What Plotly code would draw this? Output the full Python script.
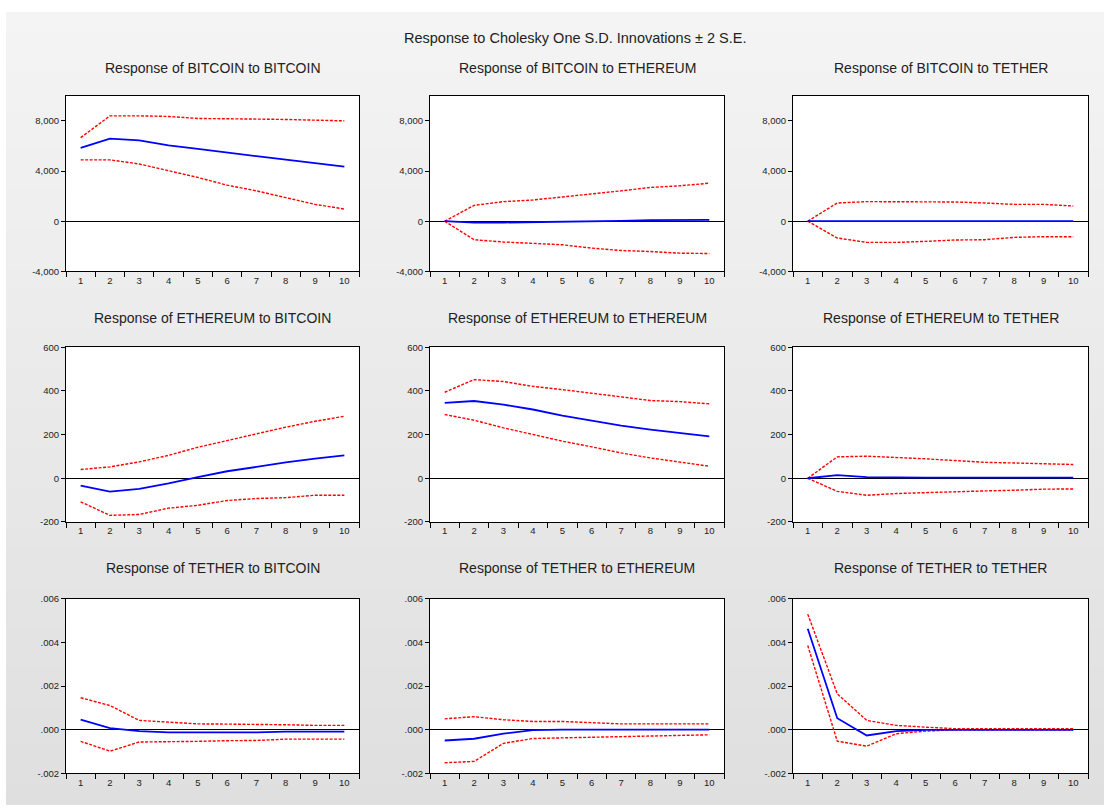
import plotly.graph_objects as go

periods = ["1", "2", "3", "4", "5", "6", "7", "8", "9", "10"]

# Row 1: Response of BITCOIN
btc_btc = [5850, 6580, 6440, 6040, 5770, 5450, 5180, 4910, 4650, 4350]
btc_btc_up = [6660, 8400, 8400, 8350, 8190, 8140, 8140, 8110, 8030, 8000]
btc_btc_lo = [4890, 4890, 4560, 4030, 3490, 2870, 2420, 1880, 1340, 970]

btc_eth = [0, -120, -110, -90, -40, -10, 20, 80, 100, 110]
btc_eth_up = [0, 1260, 1560, 1690, 1930, 2150, 2420, 2690, 2820, 3030]
btc_eth_lo = [0, -1480, -1660, -1800, -1880, -2150, -2340, -2420, -2550, -2580]

btc_usdt = [0, 10, 5, 5, 5, 5, 5, 5, 5, 5]
btc_usdt_up = [0, 1450, 1560, 1560, 1560, 1530, 1450, 1340, 1340, 1210]
btc_usdt_lo = [0, -1340, -1690, -1690, -1610, -1500, -1480, -1290, -1240, -1240]

# Row 2: Response of ETHEREUM
eth_btc = [-34, -61, -49, -24, 5, 32, 52, 73, 90, 105]
eth_btc_up = [40, 52, 75, 105, 142, 173, 205, 234, 261, 284]
eth_btc_lo = [-108, -170, -166, -137, -124, -102, -93, -89, -78, -78]

eth_eth = [345, 354, 337, 315, 287, 264, 241, 223, 208, 192]
eth_eth_up = [394, 452, 443, 421, 406, 388, 373, 356, 351, 341]
eth_eth_lo = [292, 266, 231, 199, 170, 144, 116, 93, 73, 55]

eth_usdt = [0, 14, 5, 3, 3, 3, 3, 3, 3, 3]
eth_usdt_up = [0, 98, 101, 96, 89, 81, 73, 70, 66, 63]
eth_usdt_lo = [0, -60, -78, -70, -66, -61, -58, -55, -50, -49]

# Row 3: Response of TETHER
usdt_btc = [0.00047, 0.00008, -0.00006, -0.00012, -0.00012, -0.00012, -0.00012, -0.00008, -0.00008, -0.00008]
usdt_btc_up = [0.00147, 0.00111, 0.00043, 0.00035, 0.00027, 0.00026, 0.00026, 0.00023, 0.00020, 0.00020]
usdt_btc_lo = [-0.00053, -0.00098, -0.00056, -0.00056, -0.00053, -0.00050, -0.00049, -0.00043, -0.00043, -0.00043]

usdt_eth = [-0.00049, -0.00041, -0.00018, -0.00002, 0.00001, 0.00001, 0.00001, 0.00001, 0.00001, 0.00001]
usdt_eth_up = [0.00050, 0.00060, 0.00046, 0.00038, 0.00038, 0.00032, 0.00027, 0.00027, 0.00027, 0.00027]
usdt_eth_lo = [-0.00151, -0.00145, -0.00062, -0.00040, -0.00037, -0.00034, -0.00031, -0.00029, -0.00024, -0.00023]

usdt_usdt = [0.00463, 0.00053, -0.00026, -0.00006, 0.0, 0.0, 0.0, 0.0, 0.0, 0.0]
usdt_usdt_up = [0.00530, 0.00165, 0.00043, 0.00020, 0.00012, 0.00005, 0.00005, 0.00005, 0.00005, 0.00005]
usdt_usdt_lo = [0.00386, -0.00052, -0.00075, -0.00018, -0.00006, 0.00000, 0.00000, 0.00000, 0.00000, 0.00000]

titles = [
    "Response of BITCOIN to BITCOIN", "Response of BITCOIN to ETHEREUM", "Response of BITCOIN to TETHER",
    "Response of ETHEREUM to BITCOIN", "Response of ETHEREUM to ETHEREUM", "Response of ETHEREUM to TETHER",
    "Response of TETHER to BITCOIN", "Response of TETHER to ETHEREUM", "Response of TETHER to TETHER",
]
main_title = "Response to Cholesky One S.D. Innovations ± 2 S.E."
panels = [
    (btc_btc, btc_btc_up, btc_btc_lo), (btc_eth, btc_eth_up, btc_eth_lo), (btc_usdt, btc_usdt_up, btc_usdt_lo),
    (eth_btc, eth_btc_up, eth_btc_lo), (eth_eth, eth_eth_up, eth_eth_lo), (eth_usdt, eth_usdt_up, eth_usdt_lo),
    (usdt_btc, usdt_btc_up, usdt_btc_lo), (usdt_eth, usdt_eth_up, usdt_eth_lo), (usdt_usdt, usdt_usdt_up, usdt_usdt_lo),
]

row_ticks = [
    ([-4000, 0, 4000, 8000], ["-4,000", "0", "4,000", "8,000"], [-4000, 10000]),
    ([-200, 0, 200, 400, 600], ["-200", "0", "200", "400", "600"], [-200, 600]),
    ([-0.002, 0, 0.002, 0.004, 0.006], ["-.002", ".000", ".002", ".004", ".006"], [-0.002, 0.006]),
]

W, H = 1104, 810
BORDER = 6  # white strip at top/left of the page
col_px = [(66, 359), (430, 724), (793, 1088)]
row_px = [(91, 269), (346, 523), (601, 778)]
title_py = [63, 316, 570]
FONT = "Liberation Sans, Arial"

fig = go.Figure()
annotations = []
shapes = []

# subtle vertical gradient background (below the white top/left border)
nb = 40
top = BORDER / H
for k in range(nb):
    g = int(round(0xf4 + (0xdf - 0xf4) * k / (nb - 1)))
    ya1 = (1 - top) - k * (1 - top) / nb
    ya0 = (1 - top) - (k + 1) * (1 - top) / nb
    shapes.append(dict(type="rect", xref="paper", yref="paper", x0=BORDER / W, x1=1,
                       y0=max(ya0 - 0.001, 0), y1=ya1, line=dict(width=0),
                       fillcolor=f"rgb({g},{g},{g})", layer="below"))

for i in range(9):
    r, c = divmod(i, 3)
    n = i + 1
    xa = "x" if n == 1 else f"x{n}"
    ya = "y" if n == 1 else f"y{n}"
    resp, up, lo = panels[i]
    for vals, color, dash, width in [(up, "#ff0000", "3px,1.5px", 1.4),
                                     (lo, "#ff0000", "3px,1.5px", 1.4),
                                     (resp, "#0000ff", "solid", 1.8)]:
        fig.add_trace(go.Scatter(x=periods, y=vals, mode="lines", xaxis=xa, yaxis=ya,
                                 line=dict(color=color, dash=dash, width=width),
                                 showlegend=False, hoverinfo="skip"))
    x0, x1 = col_px[c]
    y0, y1 = row_px[r]
    tv, tt, rng = row_ticks[r]
    shapes.append(dict(type="rect", xref="paper", yref="paper", x0=x0 / W, x1=x1 / W,
                       y0=1 - y1 / H, y1=1 - y0 / H, line=dict(width=0), fillcolor="white", layer="below"))
    fig.layout[f"xaxis{'' if n == 1 else n}"] = dict(
        domain=[x0 / W, x1 / W], anchor=ya, type="category", tickson="boundaries",
        range=[-0.5, 9.5], ticks="outside", ticklen=5, tickcolor="black", showline=True,
        linecolor="black", linewidth=1, mirror=True, showgrid=False, zeroline=False,
        fixedrange=True, tickfont=dict(family=FONT, size=9.5, color="#222222"))
    fig.layout[f"yaxis{'' if n == 1 else n}"] = dict(
        domain=[1 - y1 / H, 1 - y0 / H], anchor=xa, range=rng, tickvals=tv, ticktext=tt,
        ticks="outside", ticklen=4, tickcolor="black", showline=True, linecolor="black",
        linewidth=1, mirror=True, showgrid=False, zeroline=True, zerolinecolor="black",
        zerolinewidth=1, fixedrange=True, tickfont=dict(family=FONT, size=9.5, color="#222222"))
    annotations.append(dict(text=titles[i], x=(x0 + x1) / 2 / W, y=1 - title_py[r] / H,
                            xref="paper", yref="paper", showarrow=False, xanchor="center", yanchor="middle",
                            font=dict(family=FONT, size=14, color="#222222")))

annotations.append(dict(text=main_title, x=575 / W, y=1 - 32 / H,
                        xref="paper", yref="paper", showarrow=False, xanchor="center", yanchor="middle",
                        font=dict(family=FONT, size=14.5, color="#222222")))

fig.update_layout(width=W, height=H, margin=dict(l=0, r=0, t=0, b=0), autosize=False,
                  paper_bgcolor="white", plot_bgcolor="rgba(0,0,0,0)", annotations=annotations,
                  shapes=shapes, showlegend=False)

fig.write_html("out.html",
               config={"displayModeBar": False, "responsive": False},
               post_script="document.documentElement.style.margin='0';document.body.style.margin='0';"
                           "document.body.style.padding='0';document.body.style.overflow='hidden';")
